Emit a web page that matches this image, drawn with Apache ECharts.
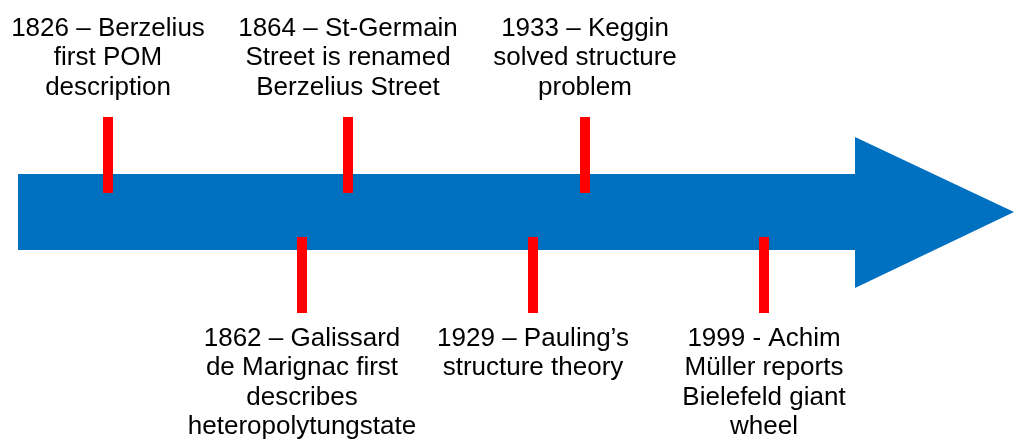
<!DOCTYPE html>
<html>
<head>
<meta charset="utf-8">
<script src="https://cdn.jsdelivr.net/npm/echarts@6/dist/echarts.min.js"></script>
<style>
html,body{margin:0;padding:0;background:#fff;}
#chart{width:1016px;height:441px;}
</style>
</head>
<body>
<div id="chart"></div>
<script>
// Timeline events (position along the timeline arrow, side of the arrow, label)
const eventLabels = [
  '1826 – Berzelius\nfirst POM\ndescription',
  '1864 – St-Germain\nStreet is renamed\nBerzelius Street',
  '1933 – Keggin\nsolved structure\nproblem',
  '1862 – Galissard\nde Marignac first\ndescribes\nheteropolytungstate',
  '1929 – Pauling’s\nstructure theory',
  '1999 - Achim\nMüller reports\nBielefeld giant\nwheel'
];
const eventPositions = [108, 348, 585, 302, 533, 764];
const eventSides = ['above', 'above', 'above', 'below', 'below', 'below'];

const BLUE = '#0070C0';
const RED = '#FF0000';
const FONT = '"Liberation Sans", Arial, sans-serif';

const chart = echarts.init(document.getElementById('chart'), null, {renderer: 'canvas'});

const tickData = eventPositions.map((p, i) => [p, eventSides[i] === 'above' ? 1 : -1, eventLabels[i]]);

chart.setOption({
  animation: false,
  grid: {left: 0, right: 0, top: 0, bottom: 0},
  xAxis: {type: 'value', min: 0, max: 1016, show: false},
  yAxis: {type: 'value', min: 0, max: 441, inverse: true, show: false},
  series: [
    {
      type: 'custom',
      silent: true,
      data: [[0]],
      renderItem: function (params, api) {
        const pts = [[18, 174], [855, 174], [855, 137], [1014, 212], [855, 288], [855, 250], [18, 250]]
          .map(p => api.coord(p));
        return {type: 'polygon', shape: {points: pts}, style: {fill: BLUE}};
      },
      z: 1
    },
    {
      type: 'custom',
      silent: true,
      data: tickData,
      renderItem: function (params, api) {
        const x = api.value(0);
        const up = api.value(1) > 0;
        const y0 = up ? 117 : 237;
        const y1 = up ? 193 : 313;
        const a = api.coord([x - 5, y0]);
        const b = api.coord([x + 5, y1]);
        const label = tickData[params.dataIndex][2];
        const t = api.coord([x, up ? 14 : 324]);
        return {
          type: 'group',
          children: [
            {type: 'rect', shape: {x: a[0], y: a[1], width: b[0] - a[0], height: b[1] - a[1]}, style: {fill: RED}},
            {type: 'text', x: t[0], y: t[1], style: {
              text: label, fill: '#000', fontSize: 26, fontFamily: FONT,
              align: 'center', verticalAlign: 'top', lineHeight: 29.5
            }}
          ]
        };
      },
      z: 2
    }
  ]
});
</script>
</body>
</html>
